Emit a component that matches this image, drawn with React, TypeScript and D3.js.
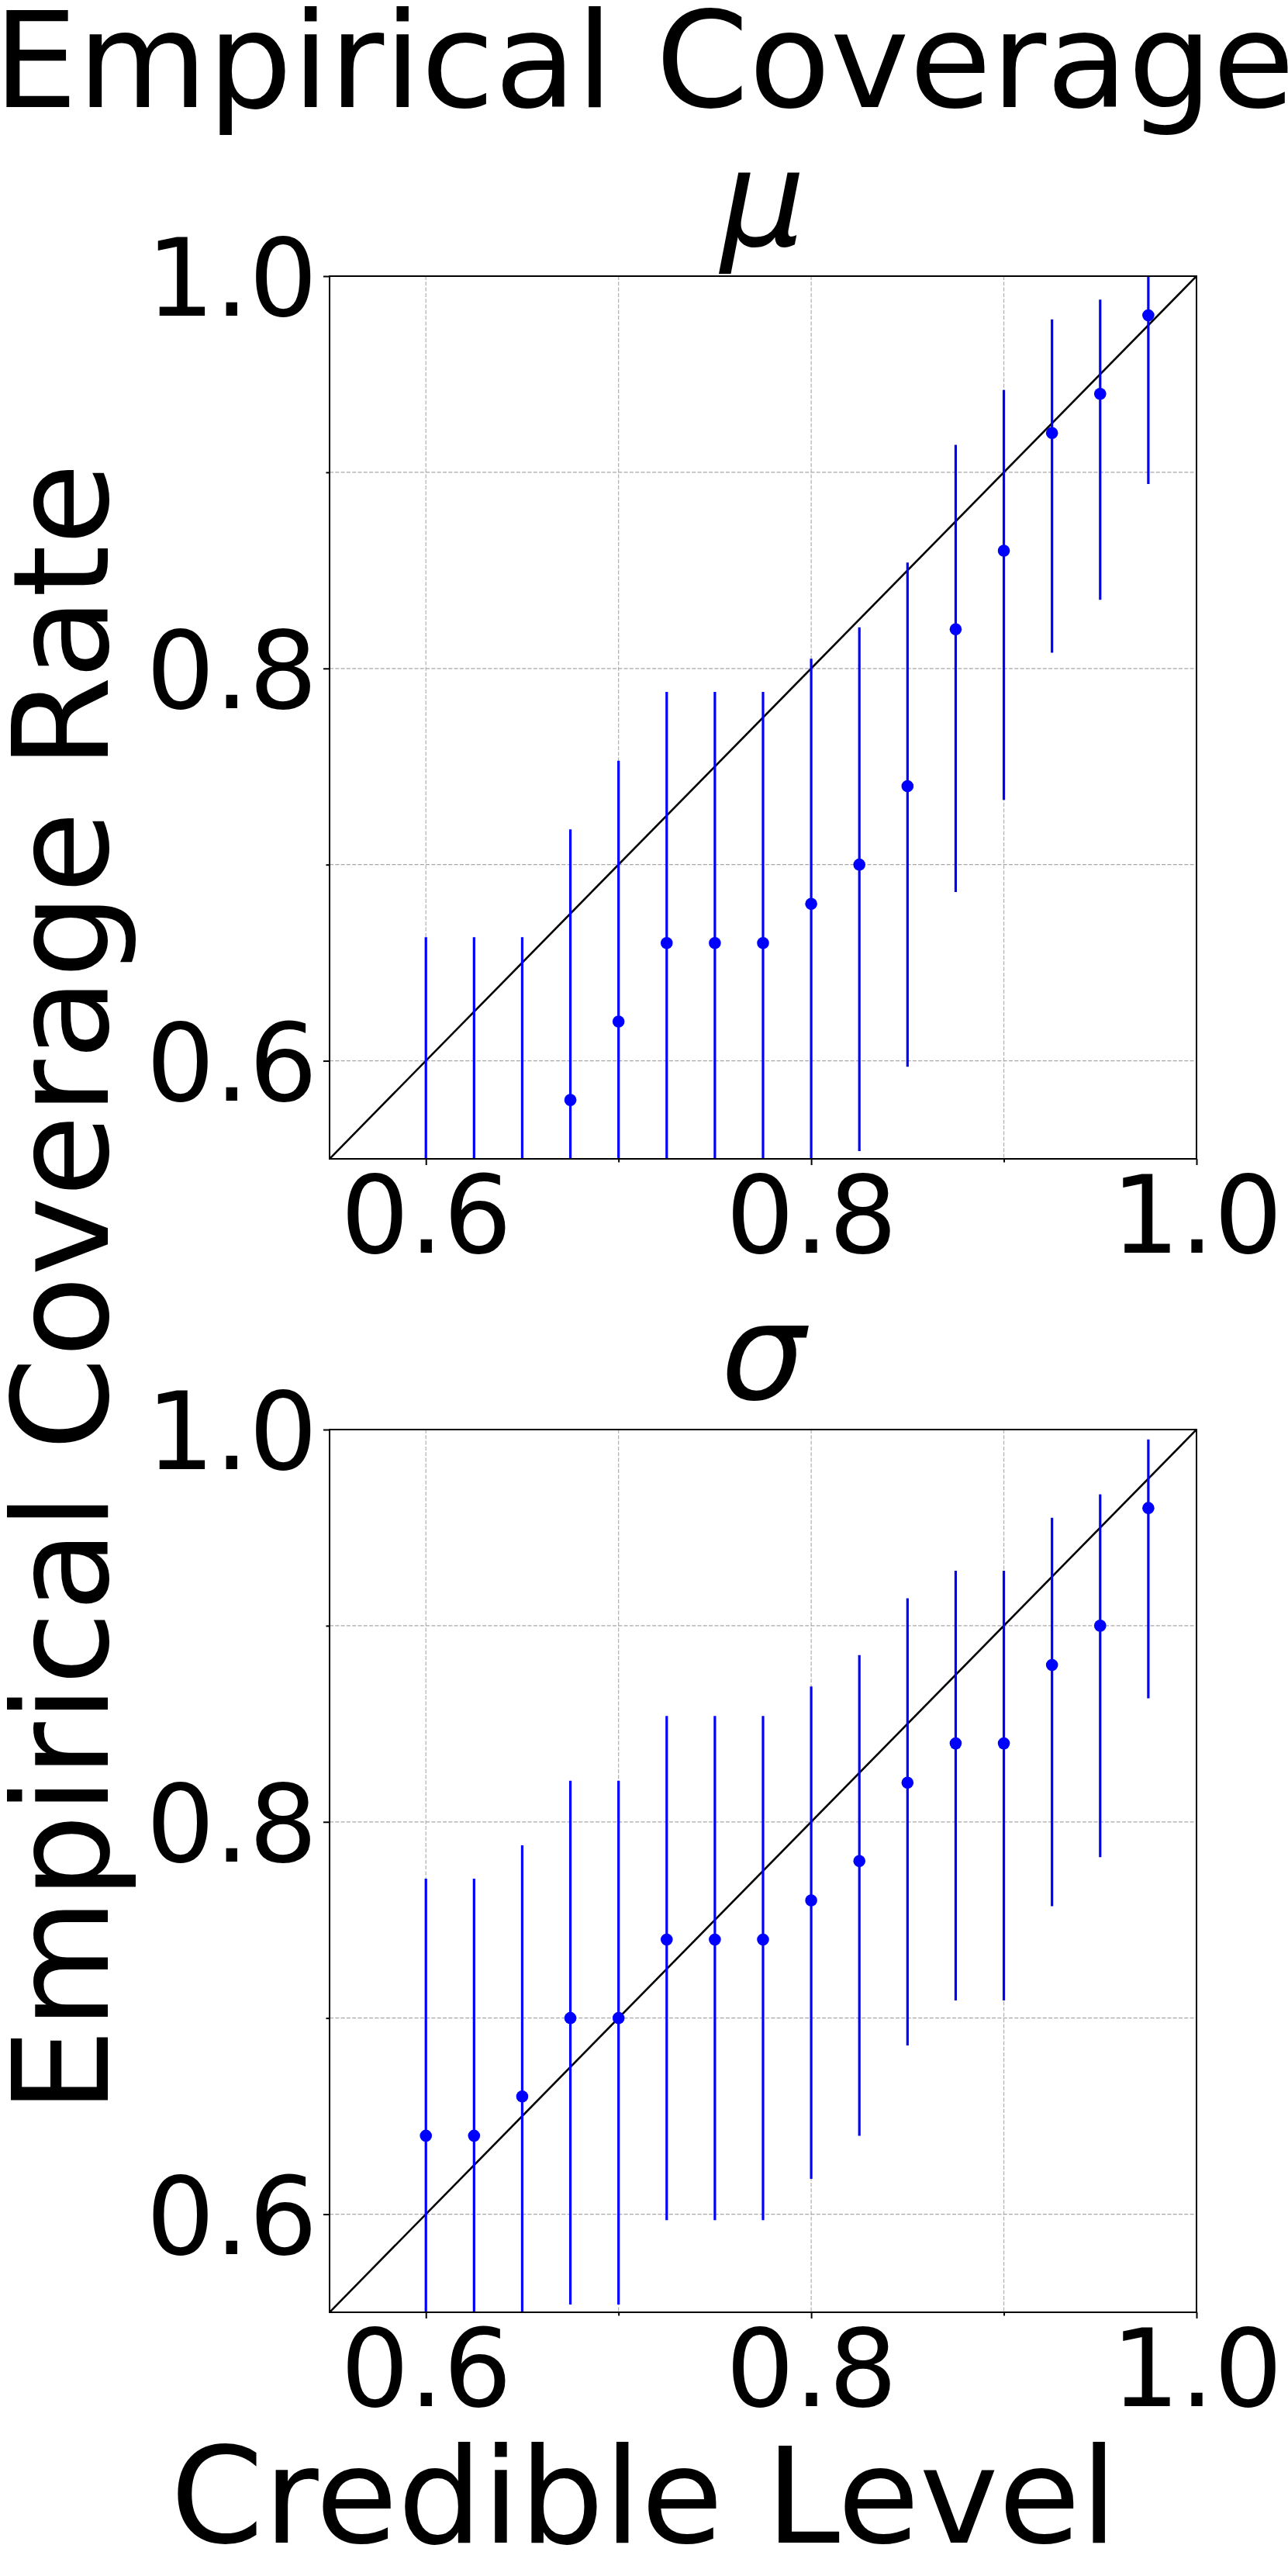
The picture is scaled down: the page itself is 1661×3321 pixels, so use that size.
import React, { useEffect, useRef } from 'react'
import * as d3 from 'd3'

// credible levels on the x axis
const levels = [0.6, 0.625, 0.65, 0.675, 0.7, 0.725, 0.75, 0.775, 0.8, 0.825, 0.85, 0.875, 0.9, 0.925, 0.95, 0.975]

// mu panel: empirical coverage and interval ends
const muRate = [0.52, 0.52, 0.52, 0.58, 0.62, 0.66, 0.66, 0.66, 0.68, 0.70, 0.74, 0.82, 0.86, 0.92, 0.94, 0.98]
const muLower = [0.375, 0.375, 0.375, 0.435, 0.473, 0.513, 0.513, 0.513, 0.535, 0.554, 0.597, 0.686, 0.733, 0.808, 0.835, 0.894]
const muUpper = [0.663, 0.663, 0.663, 0.718, 0.753, 0.788, 0.788, 0.788, 0.805, 0.821, 0.854, 0.914, 0.942, 0.978, 0.988, 1.0]

// sigma panel
const sigmaRate = [0.64, 0.64, 0.66, 0.70, 0.70, 0.74, 0.74, 0.74, 0.76, 0.78, 0.82, 0.84, 0.84, 0.88, 0.90, 0.96]
const sigmaLower = [0.49, 0.49, 0.513, 0.554, 0.554, 0.597, 0.597, 0.597, 0.618, 0.640, 0.686, 0.709, 0.709, 0.757, 0.782, 0.863]
const sigmaUpper = [0.771, 0.771, 0.788, 0.821, 0.821, 0.854, 0.854, 0.854, 0.869, 0.885, 0.914, 0.928, 0.928, 0.955, 0.967, 0.995]

const majorTicks = [0.6, 0.8, 1.0]
const minorTicks = [0.7, 0.9]
const gridTicks = [0.6, 0.7, 0.8, 0.9]
const domain = [0.55, 1.0]

const W = 1661, H = 3321
const left = 425, right = 1543
const panelTops = [356, 1843]
const panelH = 1138
const font = 'DejaVu Sans'

export default function App() {
  const ref = useRef<SVGSVGElement>(null)

  useEffect(() => {
    const svg = d3.select(ref.current)
    svg.selectAll('*').remove()

    const panels = [
      { title: 'μ', rate: muRate, lower: muLower, upper: muUpper },
      { title: 'σ', rate: sigmaRate, lower: sigmaLower, upper: sigmaUpper },
    ]

    const x = d3.scaleLinear().domain(domain).range([left, right])

    panels.forEach((p, i) => {
      const top = panelTops[i]
      const y = d3.scaleLinear().domain(domain).range([top + panelH, top])
      const g = svg.append('g')

      g.append('clipPath').attr('id', `clip${i}`)
        .append('rect')
        .attr('x', left).attr('y', top)
        .attr('width', right - left).attr('height', panelH)

      // grid
      g.selectAll('.vgrid').data(gridTicks).join('line')
        .attr('x1', d => x(d)).attr('x2', d => x(d))
        .attr('y1', top).attr('y2', top + panelH)
        .attr('stroke', '#b0b0b0').attr('stroke-width', 1.2)
        .attr('stroke-dasharray', '5,2.3')
      g.selectAll('.hgrid').data(gridTicks).join('line')
        .attr('x1', left).attr('x2', right)
        .attr('y1', d => y(d)).attr('y2', d => y(d))
        .attr('stroke', '#a8a8a8').attr('stroke-width', 1.2)
        .attr('stroke-dasharray', '5,2.3')

      const plot = g.append('g').attr('clip-path', `url(#clip${i})`)

      // reference diagonal
      plot.append('line')
        .attr('x1', x(domain[0])).attr('y1', y(domain[0]))
        .attr('x2', x(domain[1])).attr('y2', y(domain[1]))
        .attr('stroke', '#000').attr('stroke-width', 2.6)

      // error bars
      plot.selectAll('.bar').data(levels).join('line')
        .attr('x1', d => x(d)).attr('x2', d => x(d))
        .attr('y1', (d, j) => y(p.lower[j]))
        .attr('y2', (d, j) => y(p.upper[j]))
        .attr('stroke', '#0000ff').attr('stroke-width', 3.2)

      plot.selectAll('.dot').data(levels).join('circle')
        .attr('cx', d => x(d))
        .attr('cy', (d, j) => y(p.rate[j]))
        .attr('r', 7.8)
        .attr('fill', '#0000ff')

      // axes
      const yAxis = g.append('g')
        .attr('transform', `translate(${left},0)`)
        .call(d3.axisLeft(y).tickValues(majorTicks).tickSize(8).tickPadding(7.5).tickFormat(d3.format('.1f')))
      const yMinor = g.append('g')
        .attr('transform', `translate(${left},0)`)
        .call(d3.axisLeft(y).tickValues(minorTicks).tickSize(4.5).tickFormat(() => ''))
      const xAxis = g.append('g')
        .attr('transform', `translate(0,${top + panelH})`)
        .call(d3.axisBottom(x).tickValues(majorTicks).tickSize(8).tickPadding(14).tickFormat(d3.format('.1f')))
      const xMinor = g.append('g')
        .attr('transform', `translate(0,${top + panelH})`)
        .call(d3.axisBottom(x).tickValues(minorTicks).tickSize(4.5).tickFormat(() => ''))

      ;[yAxis, yMinor, xAxis, xMinor].forEach(a => {
        a.select('.domain').remove()
        a.attr('font-family', font).attr('font-size', 139)
        a.selectAll('line').attr('stroke', '#000').attr('stroke-width', 2)
        a.selectAll('text').attr('fill', '#000')
      })
      yAxis.selectAll('text').attr('dy', '0.365em')

      // spines
      g.append('rect')
        .attr('x', left).attr('y', top)
        .attr('width', right - left).attr('height', panelH)
        .attr('fill', 'none').attr('stroke', '#000').attr('stroke-width', 2)

      g.append('text')
        .attr('x', (left + right) / 2)
        .attr('y', top - 39)
        .attr('text-anchor', 'middle')
        .attr('font-family', font)
        .attr('font-style', 'italic')
        .attr('font-size', 172)
        .text(p.title)
    })

    svg.append('text')
      .attr('x', W / 2).attr('y', 138)
      .attr('text-anchor', 'middle')
      .attr('font-family', font).attr('font-size', 172)
      .text('Empirical Coverage')

    svg.append('text')
      .attr('transform', `translate(138.5,${H / 2}) rotate(-90)`)
      .attr('text-anchor', 'middle')
      .attr('font-family', font).attr('font-size', 172)
      .text('Empirical Coverage Rate')

    svg.append('text')
      .attr('x', W / 2).attr('y', 3278)
      .attr('text-anchor', 'middle')
      .attr('font-family', font).attr('font-size', 172)
      .text('Credible Level')
  }, [])

  return (
    <>
      <style>{'body{margin:0}'}</style>
      <svg ref={ref} width={W} height={H} style={{ display: 'block', background: '#fff' }} />
    </>
  )
}
